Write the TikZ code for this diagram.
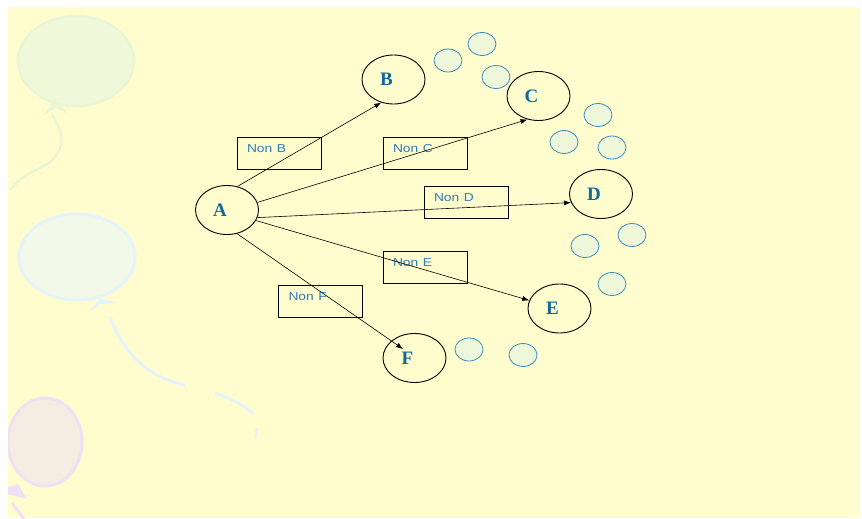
\documentclass[tikz,border=0pt]{standalone}
\usepackage{fontspec}
\setmainfont{Liberation Serif}
\setsansfont{Liberation Sans}
\usepackage{graphicx}
\usetikzlibrary{shapes.geometric,arrows.meta}
\definecolor{paper}{HTML}{FFFDCD}
\definecolor{letterblue}{HTML}{11679B}
\definecolor{labelblue}{HTML}{2A7DB6}
\definecolor{bubblefill}{HTML}{EEF7DA}
\definecolor{bubbleline}{HTML}{3C8DC2}
\definecolor{balgreen}{HTML}{F0F8DA}
\definecolor{balgreenedge}{HTML}{EAF5D4}
\definecolor{balblue}{HTML}{F3F9E8}
\definecolor{balblueedge}{HTML}{E5F3FA}
\definecolor{balpink}{HTML}{F5EDE2}
\definecolor{balpinkedge}{HTML}{F0E0F5}
\newcommand{\wide}[1]{\scalebox{1.2}[1]{#1}}
\begin{document}
\begin{tikzpicture}[x=1pt,y=-1pt,
    >={Latex[length=7pt,width=5pt]},
    state/.style={draw,ellipse,line width=0.9pt,minimum width=63pt,minimum height=49pt,inner sep=0pt,
        text=letterblue,font=\bfseries\fontsize{19}{19}\selectfont,execute at end node={\hspace*{14pt}}},
    nonbox/.style={draw,rectangle,line width=0.8pt,inner xsep=10pt,inner ysep=0pt,minimum height=32pt,
        text width=64pt,align=left,text height=9pt,text depth=11pt,text=labelblue,
        font=\sffamily\fontsize{11.5}{12}\selectfont},
    bubble/.style={draw=bubbleline,fill=bubblefill,ellipse,line width=0.8pt,minimum width=28pt,minimum height=23pt,inner sep=0pt}]
    \useasboundingbox (0,0) rectangle (862,519);
    \fill[paper] (8,7) rectangle (860,518);
    % balloons in the background
    \begin{scope}
        \clip (8,7) rectangle (860,518);
        \fill[balgreen,draw=balgreenedge,line width=2.5pt] (76,61) ellipse (58 and 45);
        \fill[balgreenedge] (44,115) -- (55,99) -- (67,113) -- (56,108) -- cycle;
        \draw[balgreenedge,line width=2.5pt] (52,115) .. controls (66,135) and (66,155) .. (40,168) .. controls (22,177) .. (10,190);
        \fill[balblue,draw=balblueedge,line width=3pt] (77,257) ellipse (58 and 43);
        \fill[balblueedge] (88,313) -- (100,298) -- (117,303) -- (100,304) -- cycle;
        \draw[balblueedge,line width=3pt] (110,317) .. controls (124,355) and (150,378) .. (185,385);
        \draw[balblueedge,line width=3pt] (215,393) .. controls (235,400) and (248,408) .. (253,414);
        \draw[balblueedge,line width=2pt] (257,428) -- (255,439);
        \fill[balpink,draw=balpinkedge,line width=3pt] (45,442) ellipse (37 and 44);
        \fill[balpinkedge] (8,487) -- (18,484) -- (27,499) -- (8,494) -- cycle;
        \draw[balpinkedge,line width=3pt] (12,503) -- (24,519);
    \end{scope}
    % little bubbles
    \foreach \x/\y [count=\i] in {448/60.5,482/44,496/77,598/115,564/142,612/147.5,632/235,585/246,612/284,469/349.5,523/355}
        \node[bubble] (b\i) at (\x,\y) {};
    % the nodes
    \node[state] (A) at (227,210) {A};
    \node[state] (B) at (393.5,79.5) {B};
    \node[state] (C) at (538.5,96) {C};
    \node[state] (D) at (601,194) {D};
    \node[state] (E) at (559.5,308.5) {E};
    \node[state] (F) at (414.5,358) {F};
    % the boxes
    \node[nonbox] (nonB) at (279,153) {\wide{Non B}};
    \node[nonbox] (nonC) at (425,153) {\wide{Non C}};
    \node[nonbox] (nonD) at (466,202.5) {\wide{Non D}};
    \node[nonbox] (nonE) at (425,267.5) {\wide{Non E}};
    \node[nonbox] (nonF) at (320.5,301) {\wide{Non F}};
    % arrows
    \draw[line width=0.6pt,->] (A.66) -- (B.242);
    \draw[line width=0.6pt,->] (A.14) -- (C.245);
    \draw[line width=0.6pt,->] (A.-14) -- (D.196);
    \draw[line width=0.6pt,->] (A.-20) -- (E.165);
    \draw[line width=0.6pt,->] (A.-67) -- ([xshift=-11.5pt,yshift=9pt]F.center);
\end{tikzpicture}
\end{document}
